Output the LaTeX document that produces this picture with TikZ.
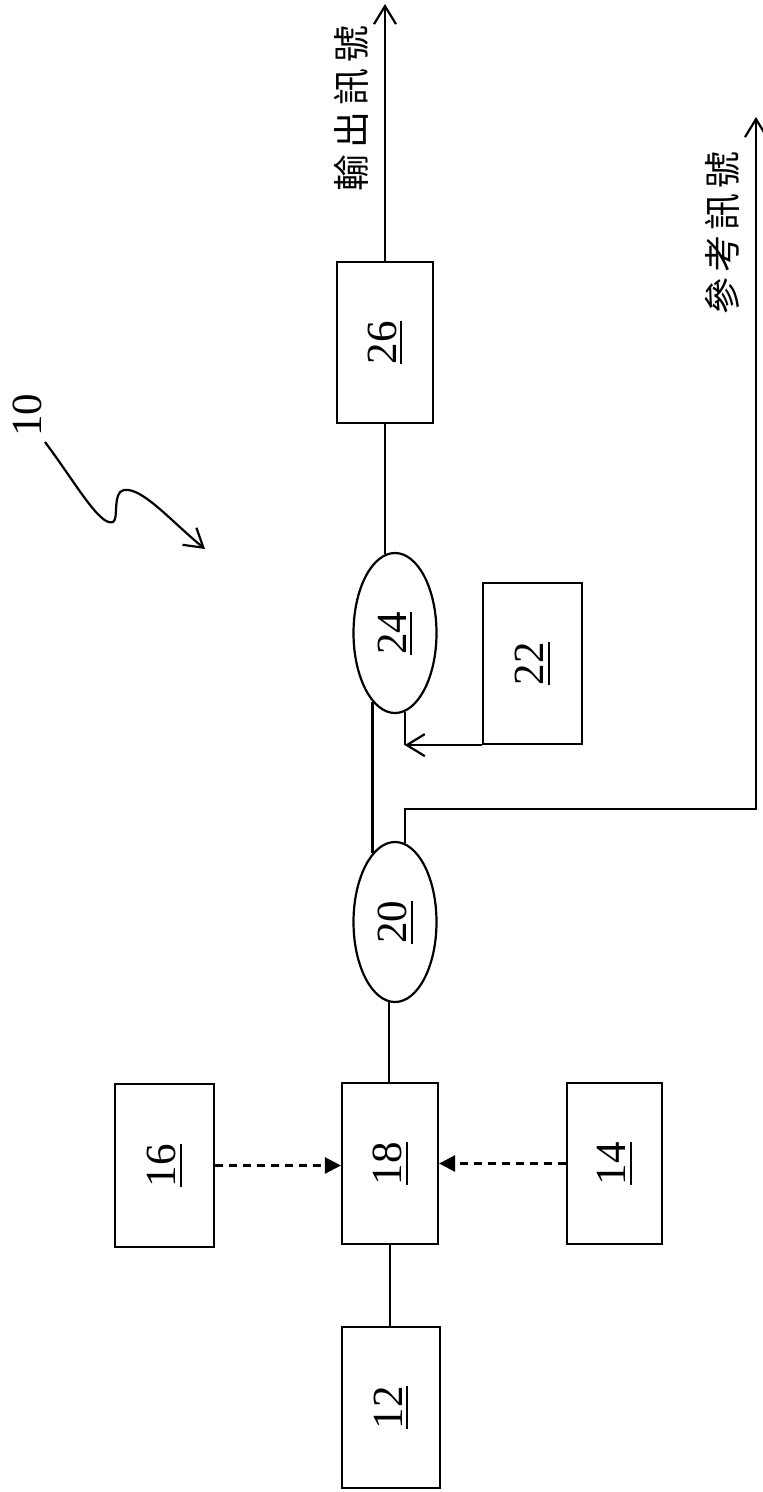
\documentclass[tikz,border=0pt]{standalone}
\usepackage{fontspec}
\setmainfont{Liberation Serif}
\newfontfamily\cjk{Noto Sans CJK TC}
\usepackage{graphicx}
\usetikzlibrary{shapes.geometric,arrows.meta}
\newcommand\unum[1]{\leavevmode\vtop{\hbox{#1}\kern4pt\hrule height 2pt}}
\newcommand\rlab[1]{\rotatebox{90}{\unum{#1}}}
\begin{document}
\begin{tikzpicture}[x=1pt,y=-1pt,line width=2.2pt,
  numfont/.style={font=\fontsize{43}{48}\selectfont},
  blk/.style={draw,rectangle,inner sep=0pt,numfont},
  ell/.style={draw,ellipse,inner sep=0pt,minimum width=83pt,minimum height=160pt,numfont},
  sig/.style={font=\fontsize{37}{40}\selectfont\cjk,inner sep=0pt},
  openarrow/.style={-{Straight Barb[length=18pt,width=22pt,line width=2.2pt]}},
  dasharrow/.style={dash pattern=on 8pt off 6pt,line width=2.6pt,-{Triangle[length=16pt,width=16pt]}}]
\useasboundingbox (0,0) rectangle (763,1492);
% blocks
\node[blk,minimum width=96pt,minimum height=161pt] (b26) at (385,342.5) {\rlab{26}};
\node[ell] (e24) at (395,633) {\rlab{24}};
\node[blk,minimum width=99pt,minimum height=161pt] (b22) at (532.5,663.5) {\rlab{22}};
\node[ell] (e20) at (395,922) {\rlab{20}};
\node[blk,minimum width=96pt,minimum height=161pt] (b18) at (390,1163.5) {\rlab{18}};
\node[blk,minimum width=99pt,minimum height=163pt] (b16) at (164.5,1165.5) {\rlab{16}};
\node[blk,minimum width=95pt,minimum height=161pt] (b14) at (614.5,1163.5) {\rlab{14}};
\node[blk,minimum width=98pt,minimum height=161pt] (b12) at (391,1407.5) {\rlab{12}};
% labels
\node[numfont,inner sep=0pt] (l10) at (27,415) {\rotatebox{90}{10}};
\node[sig] (lout) at (351,108) {\rotatebox{90}{輸\hspace{6pt}出\hspace{6pt}訊\hspace{6pt}號}};
\node[sig] (lref) at (722,233) {\rotatebox{90}{參\hspace{5pt}考\hspace{5pt}訊\hspace{5pt}號}};
% coordinates
\coordinate (outtip) at (385,4);
\coordinate (refcorner) at (756,809);
\coordinate (reftip) at (756,117);
\coordinate (j22) at (e24.277 |- b22.south west);
\coordinate (xmid) at (372.5,0);
\coordinate (s0) at (45,442);
\coordinate (s1) at (113,522);
\coordinate (s2) at (124,490);
\coordinate (s3) at (205,549);
% connectors
\draw[openarrow] (b26.north) -- (outtip);
\draw (e24.97) -- (e24.97 |- b26.south);
\draw (xmid |- e24.252) -- (xmid |- e20.108);
\draw (e24.277) -- (j22);
\draw[openarrow] (b22.south west) -- (j22);
\draw[openarrow] (e20.83) |- (refcorner) -- (reftip);
\draw (e20.266) -- (e20.266 |- b18.north);
\draw[dasharrow] (b16.east) -- (b16.east -| b18.west);
\draw[dasharrow] (b14.west) -- (b14.west -| b18.east);
\draw (b18.south) -- (b18.south |- b12.north);
% squiggle
\draw[openarrow,line width=2.2pt] (s0) .. controls (75,482) and (100,527) .. (s1)
  .. controls (119,519) and (112,492) .. (s2)
  .. controls (142,487) and (172,522) .. (s3);
\end{tikzpicture}
\end{document}
